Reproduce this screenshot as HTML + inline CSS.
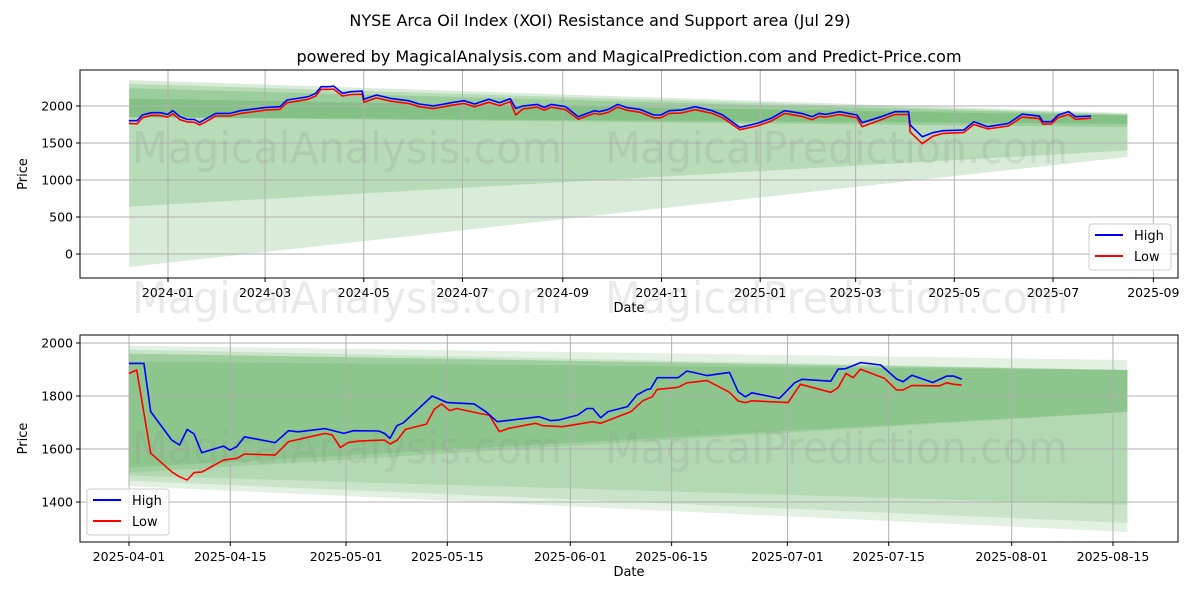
<!DOCTYPE html>
<html><head><meta charset="utf-8"><style>
body{margin:0;background:#fff;}
svg{display:block;font-family:"DejaVu Sans","Liberation Sans",sans-serif;}
</style></head><body>
<svg id="chart" width="1200" height="600" viewBox="0 0 1200 600" xmlns="http://www.w3.org/2000/svg">
<rect width="1200" height="600" fill="#fff"/>
<text x="600" y="26" text-anchor="middle" font-size="16">NYSE Arca Oil Index (XOI) Resistance and Support area (Jul 29)</text>
<text x="629" y="62" text-anchor="middle" font-size="16">powered by MagicalAnalysis.com and MagicalPrediction.com and Predict-Price.com</text>
<g id="top"></g>
<g id="bot"></g>
</svg>
<script>
// ---- top panel data (days from 2024-01-01) ----
const topDays=[-24.2,-19.1,-15.8,-10.3,-4.7,-0.3,3.0,7.4,11.8,16.2,19.5,22.8,29.5,38.3,44.9,60.4,69.2,73.6,86.8,91.3,94.6,100.1,102.3,107.8,113.3,120.0,121.1,128.8,137.6,148.6,155.3,164.1,175.1,182.9,189.5,198.3,204.9,211.5,214.9,219.3,228.1,232.5,236.9,245.8,253.5,263.4,266.7,272.2,277.8,283.3,291.7,300.2,304.5,309.8,317.2,325.7,336.4,342.8,353.4,364.1,372.6,381.1,391.7,398.1,402.4,406.6,415.1,425.8,429.0,440.7,449.2,457.7,458.7,466.2,472.6,479.0,491.7,498.1,506.6,519.4,527.9,538.5,540.7,546.0,550.2,556.6,560.9,570.5];
const topHigh=[1801,1801,1878,1909,1909,1887,1936,1855,1819,1819,1779,1819,1900,1900,1936,1981,1990,2081,2126,2171,2261,2261,2270,2171,2193,2202,2090,2148,2103,2072,2027,2000,2045,2072,2027,2090,2045,2099,1968,2000,2022,1981,2022,1990,1855,1936,1923,1954,2022,1981,1954,1878,1878,1936,1945,1990,1936,1878,1711,1765,1833,1936,1900,1855,1900,1887,1923,1878,1774,1855,1923,1923,1743,1585,1639,1666,1675,1788,1720,1765,1891,1864,1788,1788,1878,1923,1855,1864];
const topLow=[1765,1760,1840,1875,1870,1850,1895,1815,1785,1780,1745,1780,1865,1865,1900,1945,1955,2045,2090,2135,2225,2225,2230,2135,2155,2160,2050,2110,2065,2035,1990,1965,2010,2035,1990,2050,2005,2060,1878,1960,1985,1945,1985,1950,1820,1900,1885,1915,1985,1945,1915,1840,1840,1900,1905,1950,1900,1840,1680,1730,1795,1900,1860,1815,1860,1850,1885,1840,1720,1815,1885,1885,1650,1490,1590,1630,1640,1750,1690,1730,1850,1830,1755,1760,1845,1885,1820,1835];
const topTickLabels=["2024-01","2024-03","2024-05","2024-07","2024-09","2024-11","2025-01","2025-03","2025-05","2025-07","2025-09"];
const topTickDays=[0,60,121,182,244,305,366,425,486,547,609];
const topYTicks=[0,500,1000,1500,2000];
const topBandStart=-24, topBandEnd=593;
const topBandLeftTop=[2350,2300,2240,2100];
const topBandLeftBot=[-175,640,1850,1850];
const topBandRightTop=[1905,1890,1880,1870];
const topBandRightBot=[1311,1400,1716,1760];

// ---- bottom panel data (days from 2025-04-01) ----
const botHighDays=[0,2.06,3.0,5.9,7.0,8.04,9.0,10.05,13.06,13.96,14.9,15.97,20.2,22.06,23.4,27.1,29.7,31.05,34.5,35.3,36.08,37.03,37.93,41.9,44.0,47.7,49.3,50.9,56.7,58.3,59.35,62.0,63.3,64.1,65.2,66.2,68.9,70.2,71.6,72.06,73.0,75.9,77.1,78.0,79.9,83.0,84.2,85.2,86.1,89.9,92.0,93.0,97.0,98.0,99.0,101.1,103.9,106.1,107.0,108.2,111.1,113.0,114.0,115.1];
const botHigh=[1923,1923,1741,1634,1615,1674,1657,1586,1611,1596,1609,1646,1624,1669,1665,1677,1659,1669,1668,1659,1640,1688,1699,1800,1775,1770,1741,1703,1722,1707,1709,1728,1753,1753,1718,1741,1760,1804,1825,1826,1869,1869,1894,1889,1877,1889,1816,1797,1812,1791,1850,1863,1856,1901,1903,1926,1917,1864,1854,1878,1851,1875,1875,1863];
const botLowDays=[0,1.06,3.0,5.9,7.0,8.04,9.0,10.05,13.06,14.9,15.97,20.2,22.06,25.0,27.1,28.1,29.2,30.3,31.8,35.3,36.1,37.1,38.2,41.1,42.2,43.2,44.3,45.3,48.8,49.8,51.2,52.5,56.2,57.2,59.9,64.1,65.2,69.4,71.0,72.3,73.0,75.9,77.1,79.9,83.0,84.2,85.2,86.1,91.1,92.8,97.0,98.0,99.1,100.1,101.1,104.4,106.1,107.0,108.2,112.0,113.0,114.0,115.1];
const botLow=[1885,1898,1584,1514,1495,1483,1511,1513,1558,1565,1581,1577,1628,1646,1659,1653,1606,1624,1630,1634,1619,1634,1674,1694,1750,1770,1745,1753,1732,1728,1665,1678,1697,1688,1684,1703,1697,1741,1782,1797,1825,1833,1850,1858,1814,1781,1775,1782,1775,1844,1814,1831,1885,1869,1901,1867,1823,1823,1840,1838,1850,1844,1841];
const botTickLabels=["2025-04-01","2025-04-15","2025-05-01","2025-05-15","2025-06-01","2025-06-15","2025-07-01","2025-07-15","2025-08-01","2025-08-15"];
const botTickDays=[0,14,30,44,61,75,91,105,122,136];
const botYTicks=[1400,1600,1800,2000];
const botBandStart=0, botBandEnd=138;
const botBandLeftTop=[1990,1975,1960,1930,1960];
const botBandLeftBot=[1460,1480,1510,1530,1500];
const botBandRightTop=[1936,1898,1898,1898,1898];
const botBandRightBot=[1287,1321,1740,1740,1389];

const NS="http://www.w3.org/2000/svg";
function mk(parent,tag,attrs){const e=document.createElementNS(NS,tag);for(const k in attrs)e.setAttribute(k,attrs[k]);parent.appendChild(e);return e;}

function panel(g,o){
  const {L,R,T,B,x,y}=o;
  for(let i=0;i<o.bLT.length;i++){
    const pts=[[x(o.bS),y(o.bLT[i])],[x(o.bE),y(o.bRT[i])],[x(o.bE),y(o.bRB[i])],[x(o.bS),y(o.bLB[i])]];
    const p=mk(g,'polygon',{points:pts.map(q=>q.join(',')).join(' '),fill:'#008000','fill-opacity':o.alpha});
    
    
  }
  o.xt.forEach((d,i)=>{
    const gx=x(d);
    const l=mk(g,'line',{x1:gx,x2:gx,y1:T,y2:B,stroke:'#b0b0b0','stroke-width':1});
    
    
    mk(g,'line',{x1:gx,x2:gx,y1:B,y2:B+4,stroke:'#000'});
    const t=mk(g,'text',{x:gx,y:B+19,'text-anchor':'middle','font-size':12.5});
    t.textContent=o.xl[i];
    
    
  });
  o.yt.forEach(v=>{
    const gy=y(v);
    const l=mk(g,'line',{x1:L,x2:R,y1:gy,y2:gy,stroke:'#b0b0b0','stroke-width':1});
    
    
    mk(g,'line',{x1:L-4,x2:L,y1:gy,y2:gy,stroke:'#000'});
    const t=mk(g,'text',{x:L-7,y:gy+4.5,'text-anchor':'end','font-size':12.5});
    t.textContent=v;
    
    
  });
  o.wm.forEach(w=>{
    const t=mk(g,'text',{x:w[0],y:w[1],'font-size':44,fill:'#888','fill-opacity':0.18,textLength:w[3],lengthAdjust:'spacingAndGlyphs'});
    t.textContent=w[2];
    
    
  });
  const hp=o.hd.map((d,i)=>x(d).toFixed(1)+','+y(o.h[i]).toFixed(1)).join(' ');
  const lp=o.ld.map((d,i)=>x(d).toFixed(1)+','+y(o.l[i]).toFixed(1)).join(' ');
  const lo=mk(g,'polyline',{points:lp,fill:'none',stroke:'#ff0000','stroke-width':1.6,'stroke-linejoin':'round'});
  
  
  const hi=mk(g,'polyline',{points:hp,fill:'none',stroke:'#0000ff','stroke-width':1.6,'stroke-linejoin':'round'});
  
  
  const f=mk(g,'rect',{x:L,y:T,width:R-L,height:B-T,fill:'none',stroke:'#000','stroke-width':1});
  
  
  const xt=mk(g,'text',{x:(L+R)/2,y:B+34,'text-anchor':'middle','font-size':13});
  xt.textContent='Date';
  
  
  const yt=mk(g,'text',{x:0,y:0,'text-anchor':'middle','font-size':13,transform:`translate(${o.yTitleX},${(T+B)/2}) rotate(-90)`});
  yt.textContent='Price';
  
  
  const [lx,ly]=o.leg;
  const lg=mk(g,'g',{});
  
  
  mk(lg,'rect',{x:lx,y:ly,width:82,height:46,rx:3,fill:'#fff','fill-opacity':0.8,stroke:'#ccc'});
  [['High','#0000ff'],['Low','#ff0000']].forEach((e,i)=>{
    const eg=mk(lg,'g',{});
    
    
    mk(eg,'line',{x1:lx+6,x2:lx+34,y1:ly+11+i*21,y2:ly+11+i*21,stroke:e[1],'stroke-width':2});
    const t=mk(eg,'text',{x:lx+45,y:ly+16+i*21,'font-size':13});
    t.textContent=e[0];
  });
}

panel(document.getElementById('top'),{
  L:80,R:1178,T:70,B:278,alpha:0.15,
  x:d=>168+1.618*d, y:p=>254-0.074*p,
  bS:topBandStart,bE:topBandEnd,bLT:topBandLeftTop,bLB:topBandLeftBot,bRT:topBandRightTop,bRB:topBandRightBot,
  xt:topTickDays,xl:topTickLabels,yt:topYTicks,
  hd:topDays,h:topHigh,ld:topDays,l:topLow,
  wm:[[132,163,'MagicalAnalysis.com',430],[605,163,'MagicalPrediction.com',463],[132,313,'MagicalAnalysis.com',430],[605,313,'MagicalPrediction.com',463]],
  yTitleX:27,leg:[1089,224]
});
panel(document.getElementById('bot'),{
  L:80,R:1178,T:335,B:542,alpha:0.11,
  x:d=>129+7.235*d, y:p=>343+(2000-p)*0.265,
  bS:botBandStart,bE:botBandEnd,bLT:botBandLeftTop,bLB:botBandLeftBot,bRT:botBandRightTop,bRB:botBandRightBot,
  xt:botTickDays,xl:botTickLabels,yt:botYTicks,
  hd:botHighDays,h:botHigh,ld:botLowDays,l:botLow,
  wm:[[132,463,'MagicalAnalysis.com',430],[605,463,'MagicalPrediction.com',463]],
  yTitleX:27,leg:[87,489]
});
</script>
</body></html>
